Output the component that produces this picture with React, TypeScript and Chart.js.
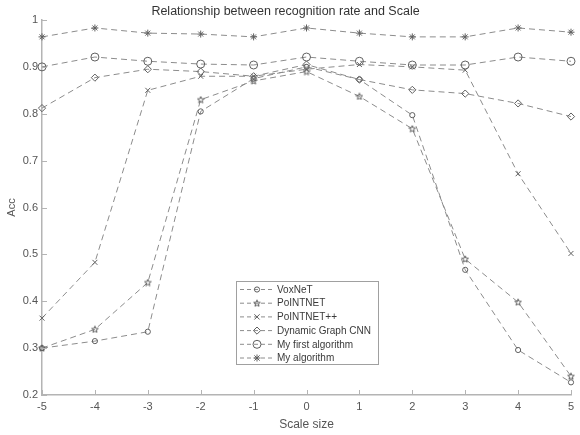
import React, { useEffect, useRef } from "react";
import { Chart, registerables } from "chart.js";

Chart.register(...registerables);

const xLabels = ["-5", "-4", "-3", "-2", "-1", "0", "1", "2", "3", "4", "5"];
const yTickValues = [0.2, 0.3, 0.4, 0.5, 0.6, 0.7, 0.8, 0.9, 1];

const voxnet = [0.30, 0.315, 0.335, 0.805, 0.875, 0.90, 0.873, 0.797, 0.467, 0.296, 0.227];
const pointnet = [0.30, 0.34, 0.44, 0.83, 0.87, 0.89, 0.837, 0.768, 0.49, 0.398, 0.24];
const pointnetpp = [0.364, 0.483, 0.85, 0.88, 0.88, 0.895, 0.905, 0.90, 0.893, 0.672, 0.502];
const dgcnn = [0.812, 0.877, 0.895, 0.89, 0.88, 0.905, 0.873, 0.851, 0.843, 0.822, 0.794];
const myFirst = [0.90, 0.921, 0.912, 0.906, 0.904, 0.921, 0.912, 0.904, 0.904, 0.921, 0.912];
const myAlg = [0.964, 0.983, 0.972, 0.970, 0.964, 0.983, 0.972, 0.964, 0.964, 0.983, 0.974];

const seriesNames = ["VoxNeT", "PoINTNET", "PoINTNET++", "Dynamic Graph CNN", "My first algorithm", "My algorithm"];

const LINE = "#8c8c8c";
const MARK = "#606060";
const AXIS = "#b4b4b4";
const TEXT = "#555555";
const FONT = "'Liberation Sans', Arial, Helvetica, sans-serif";

function makePentagram(): HTMLCanvasElement {
  const c = document.createElement("canvas");
  c.width = 8;
  c.height = 8;
  const g = c.getContext("2d")!;
  g.strokeStyle = MARK;
  g.lineWidth = 1;
  g.beginPath();
  const cx = 4, cy = 4.3, R = 3.5, r = 1.5;
  for (let i = 0; i < 10; i++) {
    const a = -Math.PI / 2 + (i * Math.PI) / 5;
    const rad = i % 2 === 0 ? R : r;
    const px = cx + rad * Math.cos(a);
    const py = cy + rad * Math.sin(a);
    if (i === 0) g.moveTo(px, py);
    else g.lineTo(px, py);
  }
  g.closePath();
  g.stroke();
  return c;
}

function drawMarker(ctx: CanvasRenderingContext2D, style: any, radius: number, x: number, y: number) {
  ctx.save();
  ctx.strokeStyle = MARK;
  ctx.lineWidth = 1;
  ctx.setLineDash([]);
  if (style instanceof HTMLCanvasElement) {
    ctx.drawImage(style, x - style.width / 2, y - style.height / 2);
  } else if (style === "circle") {
    ctx.beginPath();
    ctx.arc(x, y, radius, 0, Math.PI * 2);
    ctx.stroke();
  } else if (style === "rectRot") {
    ctx.beginPath();
    ctx.moveTo(x, y - radius);
    ctx.lineTo(x + radius, y);
    ctx.lineTo(x, y + radius);
    ctx.lineTo(x - radius, y);
    ctx.closePath();
    ctx.stroke();
  } else if (style === "crossRot") {
    const d = radius * 0.75;
    ctx.beginPath();
    ctx.moveTo(x - d, y - d);
    ctx.lineTo(x + d, y + d);
    ctx.moveTo(x + d, y - d);
    ctx.lineTo(x - d, y + d);
    ctx.stroke();
  } else if (style === "star") {
    const d = radius * 0.75;
    ctx.beginPath();
    ctx.moveTo(x - radius, y);
    ctx.lineTo(x + radius, y);
    ctx.moveTo(x, y - radius);
    ctx.lineTo(x, y + radius);
    ctx.moveTo(x - d, y - d);
    ctx.lineTo(x + d, y + d);
    ctx.moveTo(x + d, y - d);
    ctx.lineTo(x - d, y + d);
    ctx.stroke();
  }
  ctx.restore();
}

const inwardTicks = {
  id: "inwardTicks",
  afterDraw(chart: any) {
    const { ctx, scales } = chart;
    const xs = scales.x;
    const ys = scales.y;
    const area = chart.chartArea;
    ctx.save();
    ctx.strokeStyle = AXIS;
    ctx.lineWidth = 1;
    ctx.beginPath();
    xs.ticks.forEach((_t: any, i: number) => {
      const px = Math.round(xs.getPixelForTick(i)) + 0.5;
      ctx.moveTo(px, area.bottom);
      ctx.lineTo(px, area.bottom - 5);
    });
    ys.ticks.forEach((_t: any, i: number) => {
      const py = Math.round(ys.getPixelForTick(i)) + 0.5;
      ctx.moveTo(area.left, py);
      ctx.lineTo(area.left + 5, py);
    });
    ctx.stroke();
    ctx.restore();
  },
};

const boxLegend = {
  id: "boxLegend",
  afterDraw(chart: any) {
    const { ctx } = chart;
    const left = 236, top = 281, right = 378, bottom = 364;
    ctx.save();
    ctx.fillStyle = "#ffffff";
    ctx.fillRect(left, top, right - left, bottom - top);
    ctx.strokeStyle = "#a0a0a0";
    ctx.lineWidth = 1;
    ctx.strokeRect(left + 0.5, top + 0.5, right - left, bottom - top);
    ctx.font = `10px ${FONT}`;
    ctx.textBaseline = "middle";
    ctx.textAlign = "left";
    chart.data.datasets.forEach((ds: any, i: number) => {
      const y = top + 8.5 + i * 13.7;
      ctx.strokeStyle = LINE;
      ctx.lineWidth = 1;
      ctx.setLineDash([4, 3]);
      ctx.beginPath();
      ctx.moveTo(240, y);
      ctx.lineTo(274, y);
      ctx.stroke();
      ctx.setLineDash([]);
      drawMarker(ctx, ds.pointStyle, ds.pointRadius, 257, y);
      ctx.fillStyle = "#3a3a3a";
      ctx.fillText(ds.label, 277, y + 0.5);
    });
    ctx.restore();
  },
};

export default function App() {
  const ref = useRef<HTMLCanvasElement | null>(null);

  useEffect(() => {
    if (!ref.current) return;
    const pentagram = makePentagram();
    const styles: any[] = ["circle", pentagram, "crossRot", "rectRot", "circle", "star"];
    const radii = [2.6, 3.5, 3.5, 3.6, 4, 3.5];
    const values = [voxnet, pointnet, pointnetpp, dgcnn, myFirst, myAlg];

    const datasets = values.map((v, i) => ({
      label: seriesNames[i],
      data: v,
      borderColor: LINE,
      borderWidth: 1,
      borderDash: [6, 4],
      pointStyle: styles[i],
      pointRadius: radii[i],
      pointBorderColor: MARK,
      pointBackgroundColor: "rgba(0,0,0,0)",
      pointBorderWidth: 1,
      fill: false,
      tension: 0,
    }));

    const chart = new Chart(ref.current, {
      type: "line",
      data: { labels: xLabels, datasets },
      plugins: [inwardTicks, boxLegend],
      options: {
        animation: false,
        responsive: false,
        devicePixelRatio: 1,
        layout: { padding: { left: 0, right: 9, top: 0, bottom: 0 } },
        plugins: {
          legend: { display: false },
          tooltip: { enabled: false },
          title: {
            display: true,
            text: "Relationship between recognition rate and Scale",
            color: "#333333",
            font: { family: FONT, size: 12.5, weight: "normal" },
            padding: { top: 4, bottom: 1 },
          },
        },
        scales: {
          x: {
            type: "category",
            offset: false,
            grid: { display: true, drawOnChartArea: false, drawTicks: false },
            border: { display: true, color: AXIS, width: 1.5 },
            ticks: { color: TEXT, font: { family: FONT, size: 11 }, padding: 5, maxRotation: 0, autoSkip: false },
            title: {
              display: true,
              text: "Scale size",
              color: TEXT,
              font: { family: FONT, size: 12 },
              padding: { top: 0, bottom: 3 },
            },
            afterFit: (s: any) => {
              s.height = 40;
            },
          },
          y: {
            type: "linear",
            min: 0.2,
            max: 1,
            grid: { display: true, drawOnChartArea: false, drawTicks: false },
            border: { display: true, color: AXIS, width: 1.5 },
            afterBuildTicks: (s: any) => {
              s.ticks = yTickValues.map((v) => ({ value: v }));
            },
            ticks: {
              color: TEXT,
              font: { family: FONT, size: 11 },
              padding: 4,
              callback: (v: any) => String(Math.round(Number(v) * 10) / 10),
            },
            title: {
              display: true,
              text: "Acc",
              color: TEXT,
              font: { family: FONT, size: 11 },
              padding: { top: 5, bottom: 0 },
            },
            afterFit: (s: any) => {
              s.width = 42;
            },
          },
        },
      },
    });
    return () => chart.destroy();
  }, []);

  return (
    <div style={{ position: "fixed", left: 0, top: 0, width: 580, height: 435, background: "#fff" }}>
      <canvas ref={ref} width={580} height={435} style={{ width: 580, height: 435 }} />
    </div>
  );
}
